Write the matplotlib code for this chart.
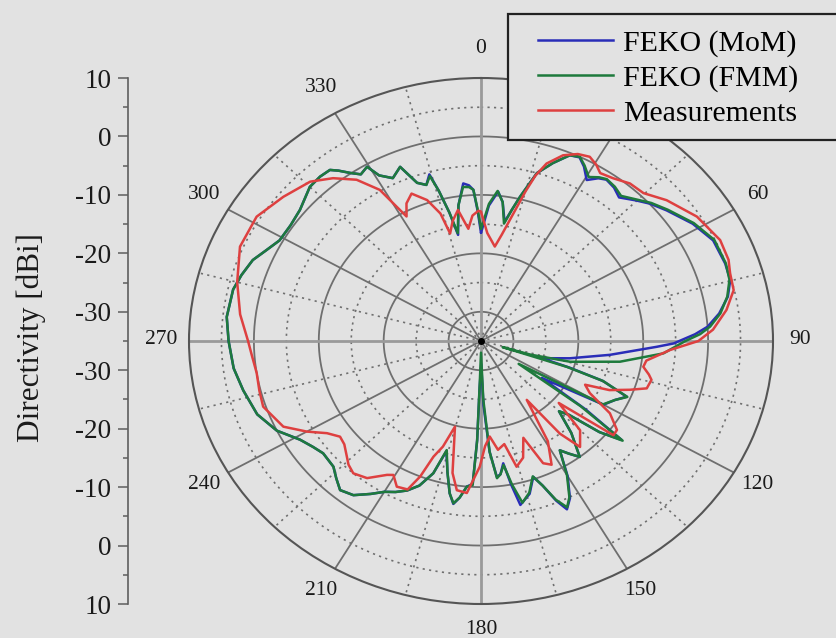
import numpy as np
import matplotlib
matplotlib.use("Agg")
import matplotlib.pyplot as plt
from matplotlib.lines import Line2D
from matplotlib.patches import Rectangle

# ---- radiation patterns: angle [deg, clockwise from 0 at top], directivity [dBi]
mom_theta = [0, 3, 5.9, 8, 10.1, 12, 13.7, 16.7, 20, 23.3, 25.8, 28, 30.6, 33, 35, 38, 40.9, 44.8,
             48, 52, 58.4, 64.3, 70.6, 74.8, 78.7, 82.7, 86, 88, 90.8, 92.1, 96.8, 102.2, 106.3,
             107.5, 108.5, 110, 113, 116, 120, 124, 126, 128, 130.5, 133, 135, 138.5, 142.5, 145,
             147, 150, 153, 155.3, 157, 159, 160.9, 164, 167.8, 169.3, 170.7, 172.5, 174, 176, 178,
             179.5, 181.5, 182, 183, 185, 187, 188.7, 190.5, 193, 195.8, 198, 201, 204, 207, 210,
             213, 216.7, 220.4, 223.5, 226.6, 231.7, 235, 238.8, 244, 250, 257, 263, 270, 276, 283,
             287, 291.5, 295, 299, 304, 308.8, 315, 318.6, 321.5, 323, 325, 327, 329.5, 331, 334,
             337.3, 340, 342.5, 344.4, 345.8, 347.5, 349, 351.5, 354.2, 356, 357.4, 358.7, 360]
mom_db = [-16.5, -11.8, -9.3, -11, -14.3, -12, -9.6, -5, -2.6, -0.4, -0.1, -1.2, -3.0, -1.8, -1.3,
          -1.7, -2.5, -1.1, 0.1, 1.3, 3.3, 4.7, 4.9, 4.8, 3.8, 2.0, 0.0, -2.0, -5.3, -7.9, -15,
          -21, -24.5, -25, -20.5, -15, -10.6, -12, -13.2, -23.7, -15, -7.5, -11, -16.5, -18, -14,
          -10, -11.5, -12.7, -8.3, -4.8, -3.3, -5.3, -8.5, -10.4, -7.8, -6.3, -10, -13.8, -12,
          -11.6, -16, -24, -31, -27, -18, -10.5, -10, -8, -6.8, -8.5, -12, -15.4, -11.2, -8.5,
          -7.0, -6.0, -5.2, -3.8, -2.1, -1.5, -2.6, -3.7, -4.0, -3.4, -2.4, 0.0, 1.7, 2.6, 3.4,
          3.9, 4.4, 4.2, 3.6, 2.8, 1.6, 0.5, 0.4, 0.8, 2.3, 2.5, 2.4, 1.5, 0.1, -1.0, -0.4, -2.6,
          -4.0, -2.7, -6.2, -7.0, -5.4, -8.5, -12.5, -16.5, -11.5, -7.9, -8.3, -9.1, -12.8, -16.5]

fmm_theta = [0, 3, 5.7, 8, 10, 12, 13.7, 16.7, 20, 23.3, 25.8, 28, 30.6, 33, 35, 38, 41, 44.8,
             48, 52, 58.4, 64.3, 70.6, 74.7, 78.7, 82.7, 86, 88, 90, 94.3, 99.4, 104.5, 107,
             107.5, 108.5, 110, 113, 116, 120, 124, 126, 128, 130.5, 133, 135, 138.5, 142.5, 145,
             147, 150, 153, 155, 157, 159, 161, 164, 167, 169, 170.7, 172.5, 174, 176, 178,
             180, 181.5, 182, 183, 185, 187, 188.7, 190.5, 193, 195.8, 198, 201, 204, 207, 210,
             213, 216.7, 220.4, 223.5, 226.6, 231.7, 235, 238.8, 244, 250, 257, 263, 270, 276, 283,
             287, 291.5, 295, 299, 304, 308.8, 315, 318.6, 321.5, 323, 325, 327, 329.5, 331, 334,
             337.3, 340, 342.5, 344.4, 345.8, 347.5, 349, 351.5, 354, 356, 357.4, 358.7, 360]
fmm_db = [-15.8, -11.5, -9.2, -11, -14.6, -12, -9.6, -5, -2.6, -0.4, 0.0, -1.0, -2.4, -1.6, -1.2,
          -1.5, -2.1, -0.9, 0.3, 1.5, 3.5, 4.9, 5.0, 4.7, 3.7, 2.2, 0.4, -1.2, -3.5, -6.8, -13.3,
          -20.8, -27, -31.5, -21, -15, -10.5, -12, -13.3, -28, -16, -7.3, -11, -16.5, -18, -14,
          -10, -11.5, -12.7, -8.5, -5, -3.6, -5.5, -8.5, -10.5, -8, -6.6, -10, -13.5, -12, -11.4,
          -16, -25, -33, -28, -18, -10.3, -10, -8, -6.9, -8.5, -12, -15.6, -11.2, -8.5, -7.0,
          -6.0, -5.2, -3.8, -2.1, -1.5, -2.6, -3.7, -4.0, -3.4, -2.4, 0.0, 1.7, 2.6, 3.4, 3.9,
          4.4, 4.2, 3.6, 2.8, 1.6, 0.5, 0.4, 0.8, 2.3, 2.5, 2.4, 1.5, 0.1, -1.0, -0.4, -2.6,
          -4.0, -2.7, -6.2, -7.0, -5.7, -8.5, -12.5, -16.2, -11.5, -8.5, -8.6, -9.1, -12.5, -15.8]

meas_theta = [0, 3, 7.5, 10, 12.9, 15, 16.5, 18.4, 21.7, 25, 28, 30.5, 32.6, 36.2, 40.4, 44.7, 49.9,
              57.4, 64.9, 70, 73.2, 77.4, 82, 86.9, 90, 93, 97.5, 100, 102.5, 104.2, 107.6, 110,
              113, 115, 118, 121.9, 126, 128.3, 131.5, 135, 139.9, 142.5, 145, 149, 152.8, 155.4,
              158.5, 162, 165.7, 168.5, 172, 175.3, 178, 180.5, 184.8, 188.3, 191, 195.3, 198,
              200.3, 202, 204, 207.5, 210.5, 212.3, 216.8, 221, 224, 226.3, 230, 233, 236.4, 240,
              244.3, 251.5, 256, 261, 266, 270, 277, 285, 293.5, 301.6, 309, 316, 320.7, 325.2,
              328.9, 330.5, 331.7, 334, 337, 341, 344, 345.5, 348, 351, 354.2, 356.5, 359, 360]
meas_db = [-12.9, -16.5, -18.7, -16.5, -12.6, -8.5, -5.5, -3.0, -0.8, 0.3, 0.7, 0.0, -0.9, -0.5,
           0.4, 0.6, 2.4, 4.5, 5.7, 5.6, 5.1, 4.9, 3.2, 0.8, -1.5, -5.8, -9.3, -9.6, -8.5, -7.9,
           -8.2, -10.6, -13.5, -17.3, -16, -11.6, -9.1, -9.0, -19, -13.4, -11.3, -15, -22.7, -15,
           -11.2, -12, -17.2, -14, -12.8, -17, -16.2, -18.6, -17, -13.5, -8.9, -9.2, -12, -19.8,
           -16, -13.9, -10, -7.2, -6.9, -8.4, -7.9, -5.7, -5.0, -5.6, -6.4, -7.5, -7.8, -6.5,
           -4.0, -1.2, 0.4, 0.2, 0.0, 0.4, 0.9, 2.4, 3.9, 5.5, 5.6, 4.2, 2.9, 1.0, -1.4, -4.8,
           -8.6, -10.8, -8.8, -7.6, -9.5, -12.3, -16, -14, -12.3, -15.7, -13.5, -12.7, -12.9]

series_labels = ["FEKO (MoM)", "FEKO (FMM)", "Measurements"]
series_colors = ["#2a2db8", "#1e7a3c", "#de4040"]

# angle labels (the 30 deg position sits under the legend box)
angle_ticks = [0, 60, 90, 120, 150, 180, 210, 240, 270, 300, 330]
r_min, r_max = -35, 10
db_major = [10, 0, -10, -20, -30]

BG = "#e2e2e2"
GRID = "#6f6f6f"
SERIF = "Liberation Serif"

W, H = 837, 638
fig = plt.figure(figsize=(W / 100, H / 100), dpi=100)
fig.patch.set_facecolor(BG)

# polar panel (stretched into an ellipse)
cx, cy, rx, ry = 481, 341, 292, 263
ax = fig.add_axes([(cx - rx) / W, (H - cy - ry) / H, 2 * rx / W, 2 * ry / H],
                  projection="polar")
ax.set_aspect("auto")
ax.set_facecolor(BG)
ax.set_theta_zero_location("N")
ax.set_theta_direction(-1)
ax.grid(False)
ax.set_xticks([])
ax.set_yticks([])
ax.spines["polar"].set_color("#555555")
ax.spines["polar"].set_linewidth(1.5)

full = np.linspace(0, 2 * np.pi, 721)
for r in range(-30, 10, 5):
    if r % 10 == 0:
        ax.plot(full, np.full_like(full, r), color=GRID, lw=1.3, zorder=1)
    else:
        ax.plot(full, np.full_like(full, r), color=GRID, lw=1.2,
                ls=(0, (1.3, 2.6)), zorder=1)
for a in range(0, 360, 15):
    t = np.deg2rad(a)
    if a % 90 == 0:
        ax.plot([t, t], [r_min, r_max], color="#9a9a9a", lw=2.0, zorder=1)
    elif a % 30 == 0:
        ax.plot([t, t], [r_min, r_max], color=GRID, lw=1.3, zorder=1)
    else:
        ax.plot([t, t], [r_min, r_max], color=GRID, lw=1.2,
                ls=(0, (1.3, 2.6)), zorder=1)

for th, db, col in [(mom_theta, mom_db, series_colors[0]),
                    (fmm_theta, fmm_db, series_colors[1]),
                    (meas_theta, meas_db, series_colors[2])]:
    ax.plot(np.deg2rad(th), db, color=col, lw=1.8, zorder=3,
            solid_joinstyle="round", solid_capstyle="round")

ax.plot([0], [r_min], "o", color="black", ms=4, zorder=4)
ax.set_rlim(r_min, r_max)

off = 19.8    # points, radial gap from outer ring to angle label
lift = 1.2    # points, small upward shift of all angle labels
for a in angle_ticks:
    t = np.deg2rad(a)
    ax.annotate(str(a), xy=(t, r_max), xytext=(off * np.sin(t), off * np.cos(t) + lift),
                textcoords="offset points", ha="center", va="center",
                fontsize=15.5, family=SERIF, color="#1a1a1a", annotation_clip=False)

# linear directivity scale on the left
ax2 = fig.add_axes([128 / W, (H - cy - ry) / H, 0.0005, 2 * ry / H])
ax2.set_facecolor("none")
span = r_max - r_min
ax2.set_ylim(-span, span)
for s in ["top", "right", "bottom"]:
    ax2.spines[s].set_visible(False)
ax2.spines["left"].set_color("#5e5e5e")
ax2.spines["left"].set_linewidth(1.2)
ax2.set_xticks([])
major_pos = [d - r_min for d in db_major] + [-(d - r_min) for d in db_major[::-1]]
major_lab = [str(d) for d in db_major] + [str(d) for d in db_major[::-1]]
ax2.set_yticks(major_pos)
ax2.set_yticklabels(major_lab, fontsize=19.5, family=SERIF, color="#1a1a1a")
ax2.set_yticks(np.arange(-span + 5, span, 10), minor=True)
ax2.tick_params(axis="y", which="major", length=7, width=1.1, color="#5e5e5e", pad=5)
ax2.tick_params(axis="y", which="minor", length=3.5, width=1.1, color="#5e5e5e")

fig.text(31 / W, 1 - 338 / H, "Directivity [dBi]", rotation=90, ha="center",
         va="center", fontsize=22.5, family=SERIF, color="#1a1a1a")

# legend box
fig.patches.append(Rectangle((508 / W, 1 - 140 / H), 340 / W, 126 / H,
                             transform=fig.transFigure, facecolor=BG,
                             edgecolor="#222222", lw=1.6, zorder=4))
handles = [Line2D([], [], color=c, lw=1.8) for c in series_colors]
fig.legend(handles, series_labels, loc="upper left",
           bbox_to_anchor=(538 / W, 1 - 30 / H), frameon=False,
           prop={"family": SERIF, "size": 21.5}, handlelength=2.5,
           handletextpad=0.34, labelspacing=0.26, borderpad=0, borderaxespad=0
           ).set_zorder(5)

fig.savefig("out.png", dpi=100, facecolor=BG)
